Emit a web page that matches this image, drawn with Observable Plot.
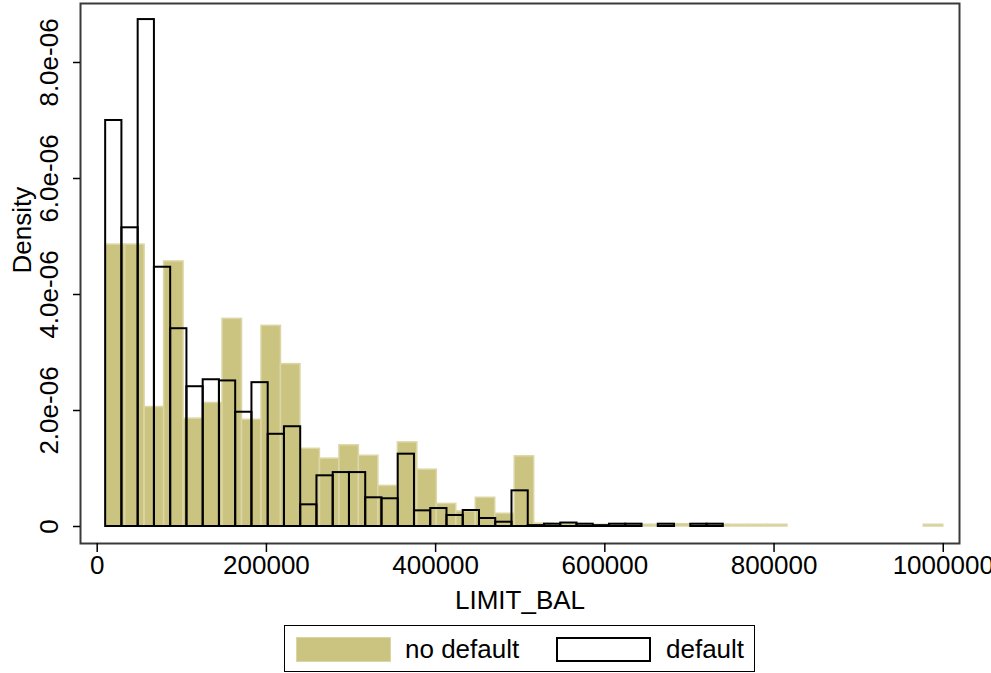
<!DOCTYPE html>
<html>
<head>
<meta charset="utf-8">
<script src="https://cdn.jsdelivr.net/npm/d3@7"></script>
<script src="https://cdn.jsdelivr.net/npm/@observablehq/plot@0.6"></script>
<style>
  html, body { margin: 0; padding: 0; background: #fff; }
  body { width: 991px; height: 673px; position: relative; overflow: hidden; font-family: "Liberation Sans", Arial, sans-serif; }
  #legend { position: absolute; left: 284px; top: 625px; width: 471px; height: 47px; box-sizing: border-box; border: 1.5px solid #000; background: #fff; }
  .sw { position: absolute; top: 11px; width: 95px; height: 25px; box-sizing: border-box; }
  .lt { position: absolute; top: 0; height: 47px; line-height: 47px; font-size: 26px; color: #000; }
</style>
</head>
<body>
<div id="chart"></div>
<div id="legend">
  <div class="sw" style="left:11px;background:#cbc480;border:1.5px solid #dcd6a6;"></div>
  <div class="lt" style="left:120px;">no default</div>
  <div class="sw" style="left:271px;background:#fff;border:2px solid #000;"></div>
  <div class="lt" style="left:381px;">default</div>
</div>
<script>
// ---- data (density values) ----
const seriesNames = ["no default", "default"];
const limitMin = 10000;
const noDefaultMax = 1000000;
const defaultMax = 740000;
const noDefaultDensity = [
  4.86e-6, 4.86e-6, 2.06e-6, 4.57e-6, 1.86e-6, 2.13e-6, 3.58e-6, 1.84e-6, 3.46e-6, 2.80e-6,
  1.34e-6, 1.17e-6, 1.40e-6, 1.22e-6, 0.70e-6, 1.45e-6, 0.98e-6, 0.39e-6, 0.26e-6, 0.495e-6,
  0.22e-6, 1.21e-6, 0.05e-6, 0.04e-6, 0.04e-6, 0.03e-6, 0.04e-6, 0.03e-6, 0.03e-6, 0.04e-6,
  0.03e-6, 0.03e-6, 0.03e-6, 0.03e-6, 0.03e-6, 0, 0, 0, 0, 0,
  0, 0, 0.03e-6
];
const defaultDensity = [
  7.00e-6, 5.15e-6, 8.74e-6, 4.47e-6, 3.41e-6, 2.41e-6, 2.53e-6, 2.51e-6, 1.97e-6, 2.48e-6,
  1.59e-6, 1.72e-6, 0.374e-6, 0.874e-6, 0.93e-6, 0.93e-6, 0.495e-6, 0.478e-6, 1.247e-6, 0.27e-6,
  0.31e-6, 0.19e-6, 0.276e-6, 0.138e-6, 0.074e-6, 0.615e-6, 0.015e-6, 0.04e-6, 0.06e-6, 0.04e-6,
  0.015e-6, 0.04e-6, 0.04e-6, 0, 0.04e-6, 0, 0.04e-6, 0.04e-6
];
const xTickValues = [0, 200000, 400000, 600000, 800000, 1000000];
const xTickLabels = ["0", "200000", "400000", "600000", "800000", "1000000"];
const yTickValues = [0, 2e-6, 4e-6, 6e-6, 8e-6];
const yTickLabels = ["0", "2.0e-06", "4.0e-06", "6.0e-06", "8.0e-06"];
const xTitle = "LIMIT_BAL";
const yTitle = "Density";

// ---- bins ----
function toBins(values, lo, hi) {
  const w = (hi - lo) / values.length;
  return values.map((v, i) => ({x1: lo + i * w, x2: lo + (i + 1) * w, v})).filter(d => d.v > 0);
}
const noDefBins = toBins(noDefaultDensity, limitMin, noDefaultMax);
const defBins = toBins(defaultDensity, limitMin, defaultMax);

const xLab = new Map(xTickValues.map((v, i) => [v, xTickLabels[i]]));
const yLab = new Map(yTickValues.map((v, i) => [v, yTickLabels[i]]));

const chart = Plot.plot({
  width: 991,
  height: 620,
  marginTop: 3,
  marginLeft: 80,
  marginRight: 32,
  marginBottom: 77,
  style: {fontFamily: "'Liberation Sans', Arial, sans-serif", fontSize: "26px", color: "#000", background: "#fff", overflow: "visible"},
  x: {domain: [-19740, 1019200]},
  y: {domain: [-0.293e-6, 9.017e-6]},
  marks: [
    Plot.rect(noDefBins, {x1: "x1", x2: "x2", y1: 0, y2: "v", fill: "#cbc480", stroke: "#dcd6a6", strokeWidth: 1.5}),
    Plot.rect(defBins, {x1: "x1", x2: "x2", y1: 0, y2: "v", fill: "none", stroke: "#000", strokeWidth: 2}),
    Plot.frame({stroke: "#3a3a3a", strokeWidth: 2}),
    Plot.axisX({ticks: xTickValues, tickFormat: d => xLab.get(d), tickSize: 9, tickPadding: 3, strokeWidth: 1.5, fontSize: 26, label: null}),
    Plot.axisY({ticks: yTickValues, tickFormat: d => yLab.get(d), tickSize: 7, tickRotate: -90, tickPadding: 16, strokeWidth: 1.5, fontSize: 26, label: null}),
    Plot.text([xTitle], {frameAnchor: "bottom", dy: 57, fontSize: 26, lineAnchor: "middle", fill: "#000"}),
    Plot.text([yTitle], {frameAnchor: "left", dx: -58, rotate: -90, fontSize: 26, lineAnchor: "middle", fill: "#000"})
  ]
});
document.getElementById("chart").appendChild(chart);
</script>
</body>
</html>
